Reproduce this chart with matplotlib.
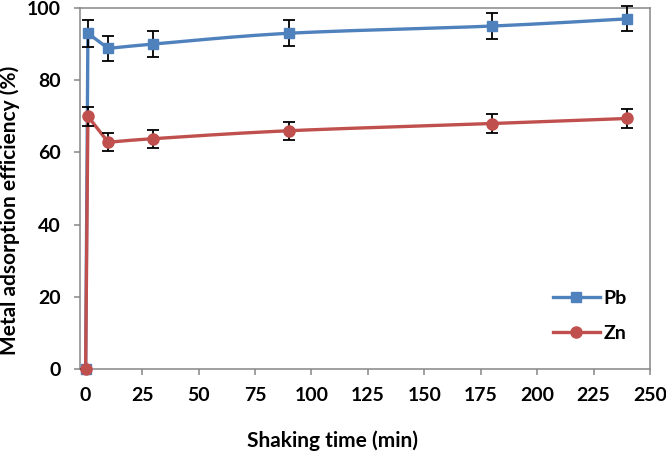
import numpy as np
import matplotlib
matplotlib.use("Agg")
import matplotlib.pyplot as plt
from matplotlib.lines import Line2D

# ---- data ----
time_min = [0, 1, 10, 30, 90, 180, 240]
pb_eff = [0, 93.0, 88.8, 90.0, 93.0, 95.0, 97.0]
pb_err = [0, 3.7, 3.5, 3.5, 3.6, 3.7, 3.5]
zn_eff = [0, 70.0, 62.8, 63.8, 66.0, 68.0, 69.4]
zn_err = [0, 2.6, 2.5, 2.5, 2.5, 2.5, 2.6]
series_names = ["Pb", "Zn"]
x_ticks = list(range(0, 251, 25))
y_ticks = list(range(0, 101, 20))

BLUE = "#4F81BD"
RED = "#C0504D"
GRAY = "#868686"

plt.rcParams['font.family'] = ['Lato', 'DejaVu Sans']
plt.rcParams['font.weight'] = 'bold'

fig = plt.figure(figsize=(6.66, 4.53), dpi=100)
ax = fig.add_axes([80/666, 1-369/453, 570/666, 361/453])
ax.set_xlim(-2.5, 250)
ax.set_ylim(0, 100)

# scale factors (px per unit) for Excel-like smoothing in screen space
sx = 570/252.5
sy = 361/100.0

def excel_smooth(xs, ys, n=40):
    P = np.column_stack([np.array(xs, float)*sx, np.array(ys, float)*sy])
    out = [P[0]]
    m = len(P)
    for i in range(m-1):
        p0 = P[i-1] if i > 0 else P[i]
        p1 = P[i]
        p2 = P[i+1]
        p3 = P[i+2] if i+2 < m else P[i+1]
        c1 = p1 + (p2 - p0)/6.0
        c2 = p2 - (p3 - p1)/6.0
        t = np.linspace(0, 1, n)[1:, None]
        seg = ((1-t)**3)*p1 + 3*((1-t)**2)*t*c1 + 3*(1-t)*(t**2)*c2 + (t**3)*p2
        out.extend(seg)
    out = np.array(out)
    return out[:, 0]/sx, out[:, 1]/sy

def build_curve(xs, ys):
    # straight segments through the steep start, smoothed beyond
    sx_, sy_ = excel_smooth(xs[2:], ys[2:])
    cx = np.concatenate([[xs[0], xs[1]], sx_])
    cy = np.concatenate([[ys[0], ys[1]], sy_])
    return cx, cy

for name, ys, errs, col, mk, ms in [("Pb", pb_eff, pb_err, BLUE, "s", 7.5),
                                     ("Zn", zn_eff, zn_err, RED, "o", 8)]:
    cx, cy = build_curve(time_min, ys)
    ax.plot(cx, cy, color=col, lw=2.4, zorder=3, clip_on=False,
            solid_capstyle='round', solid_joinstyle='round')
    ax.errorbar(time_min, ys, yerr=errs, fmt='none', ecolor='black', elinewidth=1.3,
                capsize=4, capthick=1.3, zorder=4, clip_on=False)
    ax.plot(time_min, ys, linestyle='none', marker=mk, markersize=ms, color=col,
            markeredgecolor=col, zorder=5, clip_on=False)

for s in ax.spines.values():
    s.set_color(GRAY)
    s.set_linewidth(1.1)

ax.set_xticks(x_ticks)
ax.set_yticks(y_ticks)
ax.tick_params(axis='both', which='both', direction='out', length=4, width=1.1,
               color=GRAY, labelsize=14)
ax.tick_params(axis='x', pad=9)
ax.tick_params(axis='y', pad=10)
for lab in ax.get_xticklabels() + ax.get_yticklabels():
    lab.set_fontweight('bold')

ax.set_xlabel("Shaking time (min)", fontsize=15, fontweight='bold')
ax.xaxis.set_label_coords((332.5-80)/570, (369-441)/361)
ax.xaxis.label.set_va('center')
ax.set_ylabel("Metal adsorption efficiency (%)", fontsize=15, fontweight='bold')
ax.yaxis.set_label_coords((10-80)/570, (369-210)/361)
ax.yaxis.label.set_va('center')

handles = [Line2D([0], [0], color=BLUE, lw=2.4, marker='s', markersize=7.5),
           Line2D([0], [0], color=RED, lw=2.4, marker='o', markersize=8)]
leg = ax.legend(handles, series_names, loc='center left',
                bbox_to_anchor=((553-80)/570, (369-316)/361),
                frameon=False, borderpad=0, borderaxespad=0,
                handlelength=2.4, handletextpad=0.2, labelspacing=0.95,
                prop={'weight': 'bold', 'size': 14})

fig.savefig("out.png", dpi=100)
